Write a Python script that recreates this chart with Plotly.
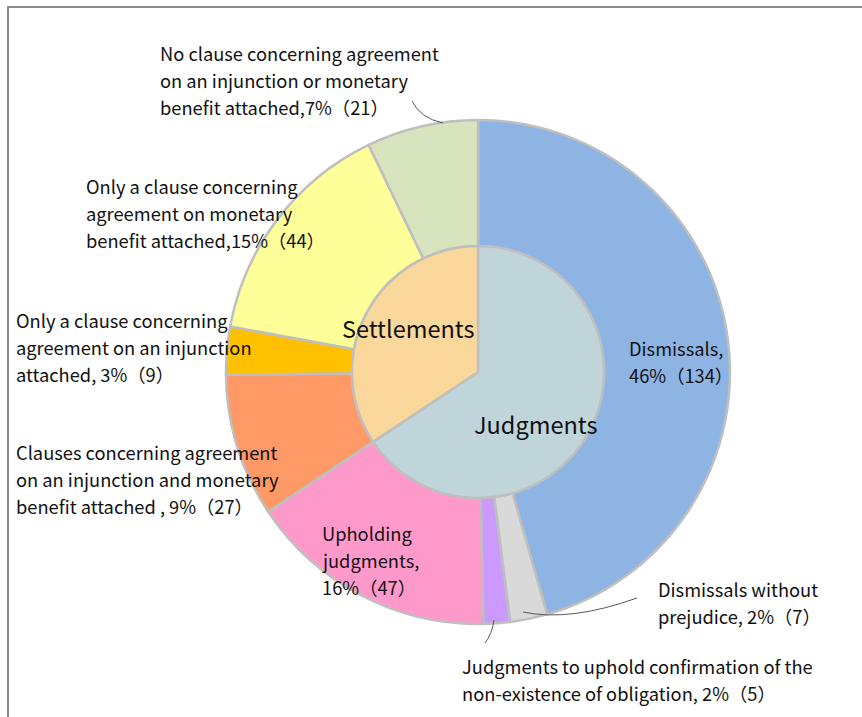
import plotly.graph_objects as go

# ---- data -------------------------------------------------------------
groups = ["Judgments", "Settlements"]
outcomes = [
    "Dismissals",
    "Dismissals without prejudice",
    "Judgments to uphold confirmation of the non-existence of obligation",
    "Upholding judgments",
    "Clauses concerning agreement on an injunction and monetary benefit attached",
    "Only a clause concerning agreement on an injunction attached",
    "Only a clause concerning agreement on monetary benefit attached",
    "No clause concerning agreement on an injunction or monetary benefit attached",
]
outcome_group = ["Judgments"] * 4 + ["Settlements"] * 4
counts = [134, 7, 5, 47, 27, 9, 44, 21]

# label text, one entry per line; {p} = percent, {n} = count
label_lines = [
    ["Dismissals,", "{p}%（{n}）"],
    ["Dismissals without", "prejudice, {p}%（{n}）"],
    ["Judgments to uphold confirmation of the", "non-existence of obligation, {p}%（{n}）"],
    ["Upholding", "judgments,", "{p}%（{n}）"],
    ["Clauses concerning agreement", "on an injunction and monetary", "benefit attached , {p}%（{n}）"],
    ["Only a clause concerning", "agreement on an injunction", "attached, {p}%（{n}）"],
    ["Only a clause concerning", "agreement on monetary", "benefit attached,{p}%（{n}）"],
    ["No clause concerning agreement", "on an injunction or monetary", "benefit attached,{p}%（{n}）"],
]

outer_colors = ["#8EB4E3", "#D9D9D9", "#CC99FF", "#FF99CC",
                "#FF9966", "#FFC000", "#FFFF99", "#D7E4BD"]
inner_colors = ["#C0D5DA", "#FAD79B"]

# ---- layout helpers (pixel -> paper) -----------------------------------
W, H = 862, 717
def px(x):
    return x / W
def py(y):
    return 1 - y / H

total = sum(counts)
group_totals = [sum(c for c, g in zip(counts, outcome_group) if g == grp) for grp in groups]
pcts = [round(100 * c / total) for c in counts]

cx, cy, R_out, R_in = 478, 372, 252, 126
border = dict(color="#BFBFBF", width=2.5)

fig = go.Figure()
fig.add_trace(go.Pie(
    labels=outcomes, values=counts, sort=False, direction="clockwise", rotation=0,
    hole=R_in / R_out, marker=dict(colors=outer_colors, line=border),
    textinfo="none", hoverinfo="label+value+percent", showlegend=False,
    domain=dict(x=[px(cx - R_out), px(cx + R_out)], y=[py(cy + R_out), py(cy - R_out)]),
))
fig.add_trace(go.Pie(
    labels=groups, values=group_totals, sort=False, direction="clockwise", rotation=0,
    marker=dict(colors=inner_colors, line=border),
    textinfo="none", hoverinfo="label+value+percent", showlegend=False,
    domain=dict(x=[px(cx - R_in), px(cx + R_in)], y=[py(cy + R_in), py(cy - R_in)]),
))

FONT = "Noto Sans CJK JP, Noto Sans, sans-serif"
# label anchors: (left x, first-line centre y) in pixels
label_pos = [(627, 348), (656, 589), (460, 666), (320, 533),
             (14, 452), (14, 320), (84, 186), (158, 53)]
LINE_H = 27

annotations = []
for lines, (lx, ly), p, n in zip(label_lines, label_pos, pcts, counts):
    for i, line in enumerate(lines):
        annotations.append(dict(
            x=px(lx), y=py(ly + i * LINE_H), xref="paper", yref="paper",
            xanchor="left", yanchor="middle", showarrow=False,
            text=line.format(p=p, n=n),
            font=dict(family=FONT, size=18.3, color="#111111"),
        ))

for name, (gx, gy) in zip(groups, [(535, 424), (408, 328)]):
    annotations.append(dict(
        x=px(gx), y=py(gy), xref="paper", yref="paper",
        xanchor="center", yanchor="middle", showarrow=False, text=name,
        font=dict(family=FONT, size=23.5, color="#111111"),
    ))

def curve(x0, y0, qx, qy, x1, y1):
    return dict(type="path", xref="paper", yref="paper",
                path=f"M {px(x0)},{py(y0)} Q {px(qx)},{py(qy)} {px(x1)},{py(y1)}",
                line=dict(color="#595959", width=1))

shapes = [
    # frame
    dict(type="rect", xref="paper", yref="paper",
         x0=px(8), x1=px(W + 20), y0=py(H + 20), y1=py(7),
         line=dict(color="#8C8C8C", width=2)),
    # leader lines
    curve(412, 101, 420, 118, 443, 123),
    curve(523, 612, 570, 622, 637, 598),
    curve(494, 620, 492, 634, 485, 643),
]

fig.update_layout(
    width=W, height=H, margin=dict(l=0, r=0, t=0, b=0),
    paper_bgcolor="white", plot_bgcolor="white",
    annotations=annotations, shapes=shapes,
)

fig.write_html("out.html")
